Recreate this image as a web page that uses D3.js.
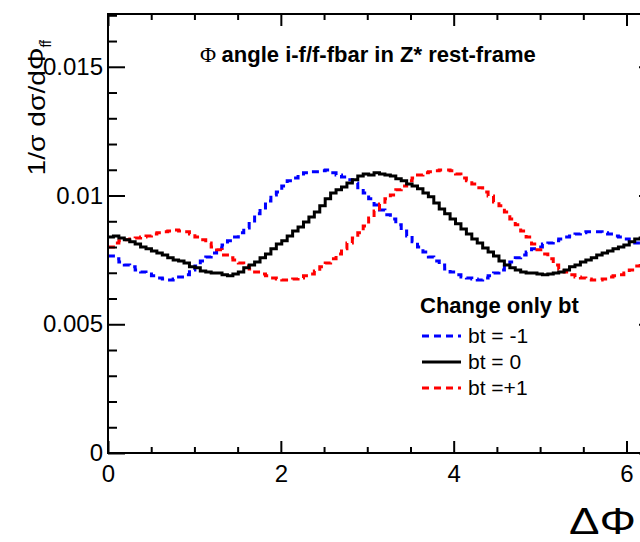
<!DOCTYPE html>
<html>
<head>
<meta charset="utf-8">
<script src="https://cdn.jsdelivr.net/npm/d3@7"></script>
<style>
  html, body { margin: 0; padding: 0; background: #fff; }
  svg { display: block; font-family: "Liberation Sans", Arial, Helvetica, sans-serif; }
</style>
</head>
<body>
<svg id="chart"></svg>
<script>
// dPhi histograms, 100 bins over [0, 2pi]
const nBins = 100
const xMax = 2 * Math.PI

const btMinus1 = [
  0.00765, 0.00754, 0.00742, 0.00730, 0.00723, 0.00711, 0.00703, 0.00695, 0.00688, 0.00680,
  0.00676, 0.00672, 0.00676, 0.00684, 0.00692, 0.00711, 0.00726, 0.00746, 0.00761, 0.00777,
  0.00796, 0.00808, 0.00824, 0.00839, 0.00855, 0.00874, 0.00901, 0.00929, 0.00952, 0.00979,
  0.01002, 0.01014, 0.01037, 0.01057, 0.01068, 0.01084, 0.01088, 0.01092, 0.01092, 0.01096,
  0.01099, 0.01088, 0.01080, 0.01072, 0.01061, 0.01049, 0.01030, 0.01010, 0.00987, 0.00963,
  0.00944, 0.00925, 0.00909, 0.00886, 0.00862, 0.00843, 0.00820, 0.00800, 0.00781, 0.00761,
  0.00746, 0.00730, 0.00715, 0.00703, 0.00692, 0.00684, 0.00680, 0.00676, 0.00672, 0.00680,
  0.00688, 0.00699, 0.00711, 0.00726, 0.00742, 0.00758, 0.00769, 0.00781, 0.00793, 0.00800,
  0.00812, 0.00816, 0.00824, 0.00831, 0.00839, 0.00843, 0.00851, 0.00855, 0.00859, 0.00859,
  0.00859, 0.00855, 0.00851, 0.00843, 0.00839, 0.00831, 0.00824, 0.00816, 0.00804, 0.00785
]

const bt0 = [
  0.00839, 0.00843, 0.00835, 0.00828, 0.00820, 0.00812, 0.00800, 0.00793, 0.00785, 0.00777,
  0.00769, 0.00758, 0.00750, 0.00746, 0.00738, 0.00723, 0.00719, 0.00707, 0.00703, 0.00699,
  0.00699, 0.00692, 0.00688, 0.00695, 0.00703, 0.00719, 0.00730, 0.00742, 0.00758, 0.00773,
  0.00793, 0.00812, 0.00824, 0.00843, 0.00862, 0.00878, 0.00897, 0.00917, 0.00936, 0.00960,
  0.00987, 0.01010, 0.01022, 0.01033, 0.01049, 0.01061, 0.01076, 0.01084, 0.01080, 0.01088,
  0.01084, 0.01080, 0.01076, 0.01065, 0.01057, 0.01045, 0.01037, 0.01026, 0.01010, 0.00995,
  0.00971, 0.00948, 0.00929, 0.00909, 0.00890, 0.00870, 0.00851, 0.00831, 0.00816, 0.00796,
  0.00781, 0.00765, 0.00746, 0.00730, 0.00719, 0.00711, 0.00703, 0.00699, 0.00699, 0.00695,
  0.00692, 0.00695, 0.00699, 0.00703, 0.00711, 0.00723, 0.00730, 0.00742, 0.00750, 0.00758,
  0.00769, 0.00777, 0.00785, 0.00793, 0.00800, 0.00808, 0.00820, 0.00831, 0.00835, 0.00839
]

const btPlus1 = [
  0.00800, 0.00816, 0.00824, 0.00828, 0.00831, 0.00835, 0.00839, 0.00843, 0.00851, 0.00855,
  0.00859, 0.00862, 0.00866, 0.00862, 0.00859, 0.00851, 0.00839, 0.00828, 0.00816, 0.00800,
  0.00789, 0.00769, 0.00758, 0.00750, 0.00738, 0.00726, 0.00715, 0.00703, 0.00695, 0.00688,
  0.00680, 0.00676, 0.00672, 0.00672, 0.00676, 0.00680, 0.00688, 0.00695, 0.00707, 0.00723,
  0.00738, 0.00754, 0.00773, 0.00793, 0.00816, 0.00835, 0.00855, 0.00882, 0.00913, 0.00940,
  0.00967, 0.00987, 0.01002, 0.01022, 0.01037, 0.01057, 0.01068, 0.01080, 0.01088, 0.01092,
  0.01096, 0.01099, 0.01099, 0.01096, 0.01084, 0.01068, 0.01057, 0.01045, 0.01030, 0.01014,
  0.00998, 0.00975, 0.00960, 0.00936, 0.00909, 0.00886, 0.00862, 0.00839, 0.00812, 0.00789,
  0.00773, 0.00754, 0.00730, 0.00715, 0.00703, 0.00692, 0.00684, 0.00680, 0.00676, 0.00672,
  0.00672, 0.00676, 0.00684, 0.00688, 0.00692, 0.00699, 0.00711, 0.00726, 0.00750, 0.00773
]

const seriesNames = ['bt = -1', 'bt = 0', 'bt =+1']
const seriesColors = ['#0000ff', '#000000', '#ff0000']
const seriesDash = ['7,5', null, '7,5']
const legendTitle = 'Change only bt'

const xMajorTicks = [0, 2, 4, 6]
const xMinorTicks = [0.5, 1, 1.5, 2.5, 3, 3.5, 4.5, 5, 5.5]
const yMajorTicks = [0, 0.005, 0.01, 0.015]
const yMinorTicks = [0.001, 0.002, 0.003, 0.004, 0.006, 0.007, 0.008, 0.009, 0.011, 0.012, 0.013, 0.014, 0.016, 0.017]

const width = 640, height = 542
const frame = { left: 108, right: 651, top: 14, bottom: 453 }

const svg = d3.select('#chart').attr('width', width).attr('height', height)

const x = d3.scaleLinear().domain([0, xMax]).range([frame.left, frame.right])
const y = d3.scaleLinear().domain([0, 0.01705]).range([frame.bottom, frame.top])

// histograms (step lines through bin edges)
const binW = xMax / nBins
function toSteps (vals) {
  const pts = vals.map((v, i) => ({ x: i * binW, y: v }))
  pts.push({ x: xMax, y: vals[vals.length - 1] })
  return pts
}
const step = d3.line()
  .x(d => x(d.x))
  .y(d => y(d.y))
  .curve(d3.curveStepAfter)

const series = [btMinus1, bt0, btPlus1]
// blue, red, then black on top
const drawOrder = [0, 2, 1]
drawOrder.forEach(k => {
  svg.append('path')
    .attr('d', step(toSteps(series[k])))
    .attr('fill', 'none')
    .attr('stroke', seriesColors[k])
    .attr('stroke-width', 3)
    .attr('stroke-dasharray', seriesDash[k])
})

// axes
function styleAxis (g, fontSize) {
  g.select('.domain').remove()
  g.selectAll('line').attr('stroke', '#000').attr('stroke-width', 2)
  g.selectAll('text').attr('font-size', fontSize).attr('fill', '#000').attr('font-family', '"Liberation Sans", Arial, sans-serif')
}

svg.append('g').attr('transform', `translate(0,${frame.bottom})`)
  .call(d3.axisBottom(x).tickValues(xMajorTicks).tickSize(-12).tickPadding(12).tickFormat(d3.format('d')))
  .call(g => styleAxis(g, 24))
svg.append('g').attr('transform', `translate(0,${frame.bottom})`)
  .call(d3.axisBottom(x).tickValues(xMinorTicks).tickSize(-6).tickFormat(''))
  .call(g => styleAxis(g, 24))
svg.append('g').attr('transform', `translate(0,${frame.top})`)
  .call(d3.axisTop(x).tickValues(xMajorTicks).tickSize(-12).tickFormat(''))
  .call(g => styleAxis(g, 24))
svg.append('g').attr('transform', `translate(0,${frame.top})`)
  .call(d3.axisTop(x).tickValues(xMinorTicks).tickSize(-6).tickFormat(''))
  .call(g => styleAxis(g, 24))

svg.append('g').attr('transform', `translate(${frame.left},0)`)
  .call(d3.axisLeft(y).tickValues(yMajorTicks).tickSize(-17).tickPadding(5).tickFormat(d3.format('~g')))
  .call(g => styleAxis(g, 24))
svg.append('g').attr('transform', `translate(${frame.left},0)`)
  .call(d3.axisLeft(y).tickValues(yMinorTicks).tickSize(-9).tickFormat(''))
  .call(g => styleAxis(g, 24))
svg.append('g').attr('transform', `translate(${frame.right},0)`)
  .call(d3.axisRight(y).tickValues(yMajorTicks).tickSize(-12).tickFormat(''))
  .call(g => styleAxis(g, 24))
svg.append('g').attr('transform', `translate(${frame.right},0)`)
  .call(d3.axisRight(y).tickValues(yMinorTicks).tickSize(-6).tickFormat(''))
  .call(g => styleAxis(g, 24))

// frame
svg.append('rect')
  .attr('x', frame.left).attr('y', frame.top)
  .attr('width', frame.right - frame.left).attr('height', frame.bottom - frame.top)
  .attr('fill', 'none').attr('stroke', '#000').attr('stroke-width', 2)

// y title
const yTitle = svg.append('text')
  .attr('transform', `translate(45,40) rotate(-90)`)
  .attr('text-anchor', 'end')
  .attr('font-size', 24)
yTitle.append('tspan').attr('textLength', 128).attr('lengthAdjust', 'spacingAndGlyphs').text('1/σ dσ/dΦ')
yTitle.append('tspan').attr('font-size', 14).attr('dy', 6).text('ff̄')

// x title
svg.append('text')
  .attr('x', 636).attr('y', 534)
  .attr('text-anchor', 'end')
  .attr('font-size', 36)
  .attr('textLength', 67).attr('lengthAdjust', 'spacingAndGlyphs')
  .text('ΔΦ')

// plot title
const title = svg.append('text').attr('x', 200).attr('y', 62).attr('font-size', 22)
title.append('tspan').attr('font-family', '"Liberation Serif", serif').text('Φ ')
title.append('tspan').attr('font-weight', 'bold').text('angle i-f/f-fbar in Z* rest-frame')

// legend
const legend = svg.append('g')
legend.append('text').attr('x', 420).attr('y', 313)
  .attr('font-size', 22).attr('font-weight', 'bold').text(legendTitle)
const rows = legend.selectAll('g.row').data(seriesNames).join('g').attr('class', 'row')
  .attr('transform', (d, i) => `translate(0,${336 + i * 26})`)
rows.append('line')
  .attr('x1', 422).attr('x2', 461).attr('y1', 0).attr('y2', 0)
  .attr('stroke', (d, i) => seriesColors[i])
  .attr('stroke-width', 3)
  .attr('stroke-dasharray', (d, i) => seriesDash[i])
rows.append('text').attr('x', 468).attr('y', 7).attr('font-size', 21).text(d => d)
</script>
</body>
</html>
